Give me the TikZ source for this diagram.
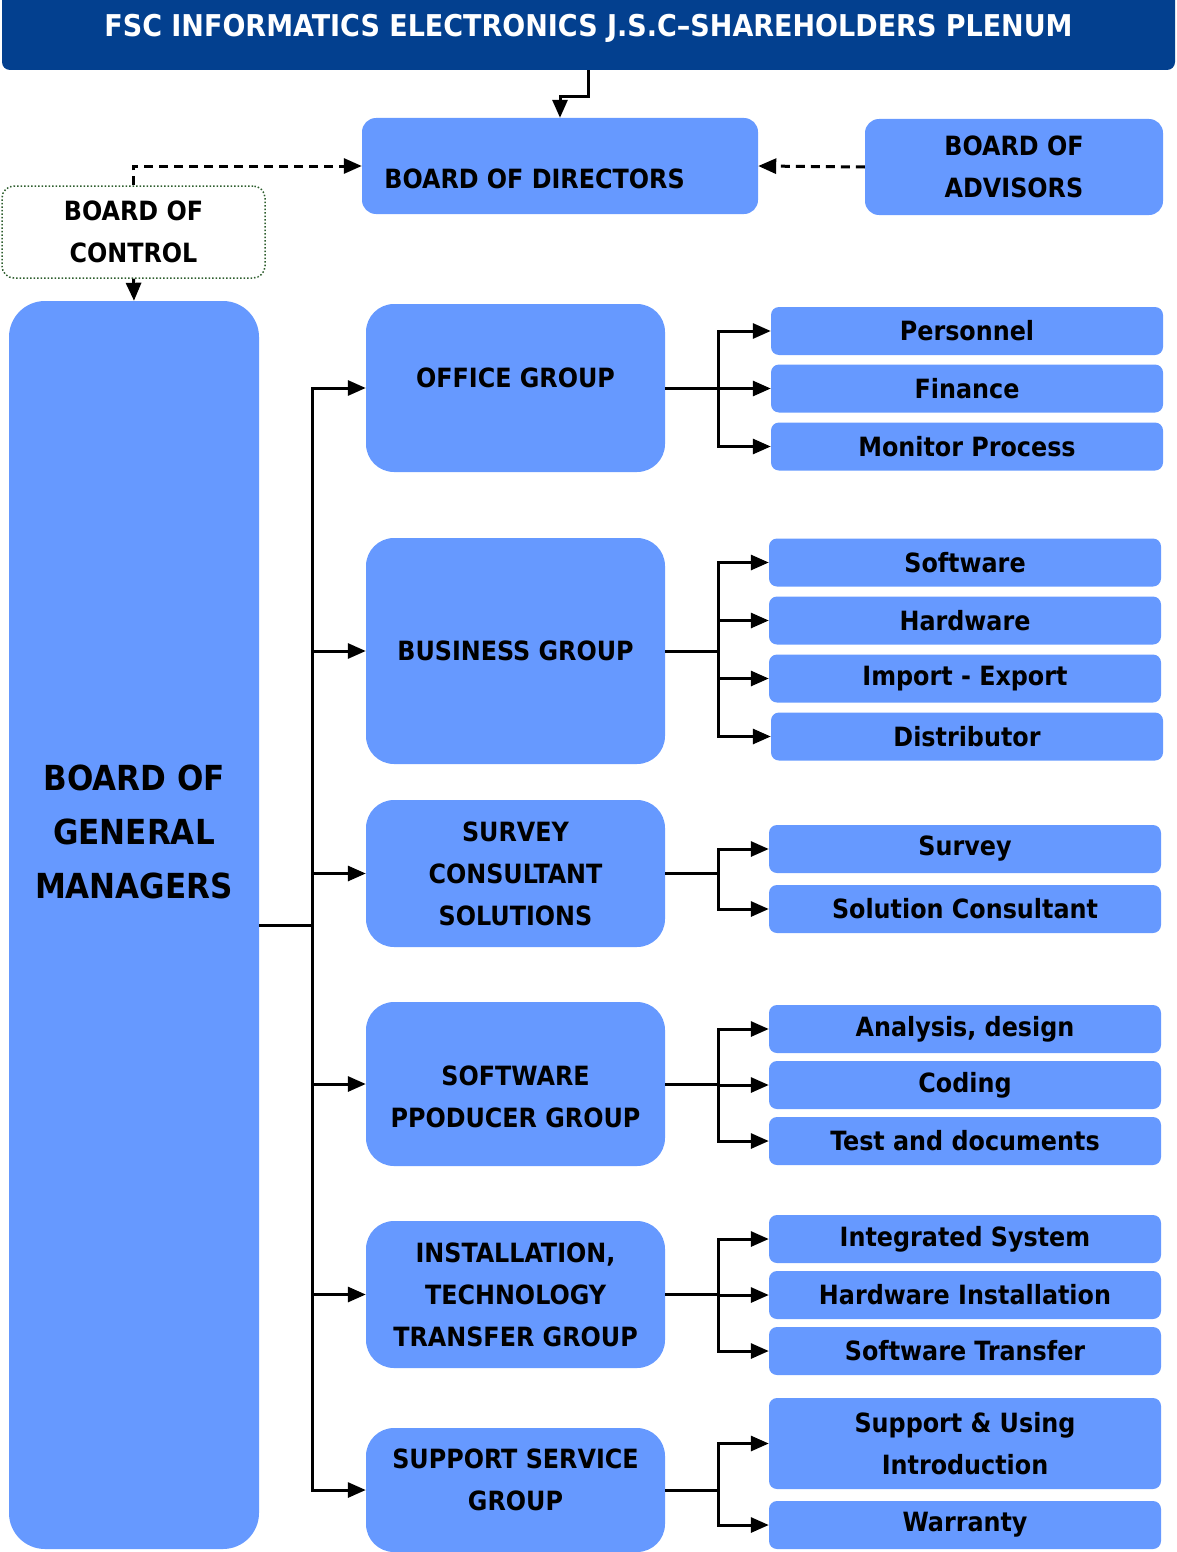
\documentclass[tikz,border=0pt]{standalone}
\usepackage{fontspec}
\setmainfont{DejaVu Sans Condensed}
\usetikzlibrary{arrows.meta,positioning}
\definecolor{plenumblue}{HTML}{03408F}
\definecolor{boxblue}{HTML}{6699FF}
\definecolor{ctrlgreen}{HTML}{2E5E2E}
\tikzset{
box/.style={fill=boxblue,rounded corners=#1,inner sep=0pt,align=center,
  font=\bfseries\fontsize{26.5}{42}\selectfont},
box/.default=14pt,
boxfont/.style={align=center,font=\bfseries\fontsize{26.5}{42}\selectfont},
groupbox/.style={box=28pt,minimum width=299pt},
subbox/.style={box=8pt,minimum width=392pt,minimum height=48pt},
arr/.style={-{Triangle[length=18pt,width=15pt]},line width=3pt},
dasharr/.style={arr,dash pattern=on 9pt off 6pt},
}

\begin{document}
\begin{tikzpicture}[x=1pt,y=-1pt]
        \useasboundingbox (0,0) rectangle (1176,1552);

        % top rows
        \node[box=8pt,fill=plenumblue,text=white,minimum width=1173pt,minimum height=84pt,
            font=\bfseries\fontsize{30}{34}\selectfont] (plenum) at (588.5,28)
            {FSC INFORMATICS ELECTRONICS J.S.C--SHAREHOLDERS PLENUM};
        \node[box,minimum width=396pt,minimum height=96pt,
            label={[xshift=-25.5pt,yshift=-13pt,boxfont]center:BOARD OF DIRECTORS}]
            (directors) at (560,166) {};
        \node[box,minimum width=298pt,minimum height=96pt] (advisors) at (1014,167) {BOARD OF\\ADVISORS};
        \node[box=12pt,fill=white,draw=ctrlgreen,line width=1.5pt,dotted,
            minimum width=263pt,minimum height=92pt] (control) at (133.5,232) {BOARD OF\\CONTROL};
        \node[box=36pt,minimum width=250pt,minimum height=1248pt,
            label={[yshift=93pt,align=center,font=\bfseries\fontsize{34.5}{54}\selectfont]center:BOARD OF\\GENERAL\\MANAGERS}]
            (managers) at (134,925) {};

        \draw[arr] (plenum.south) -- ++(0,26) -| (directors.north);
        \draw[dasharr] (advisors.west) -- (directors.east);
        \draw[dasharr] (control.north) |- (directors.west);
        \draw[arr] (control.south) -- (managers.north);

        % groups
        \node[groupbox,minimum height=168pt,
            label={[yshift=10pt,boxfont]center:OFFICE GROUP}]
            (office) at (515.5,388) {};
        \node[groupbox,minimum height=226pt] (business) at (515.5,651) {BUSINESS GROUP};
        \node[groupbox,minimum height=147pt] (survey) at (515.5,873.5) {SURVEY\\CONSULTANT\\SOLUTIONS};
        \node[groupbox,minimum height=164pt,
            label={[yshift=-13pt,boxfont]center:SOFTWARE\\PPODUCER GROUP}]
            (software) at (515.5,1084) {};
        \node[groupbox,minimum height=147pt] (install) at (515.5,1294.5) {INSTALLATION,\\TECHNOLOGY\\TRANSFER GROUP};
        \node[groupbox,minimum height=124pt,
            label={[yshift=10pt,boxfont]center:SUPPORT SERVICE\\GROUP}]
            (support) at (515.5,1490) {};

        \foreach \g in {office,business,survey,software,install,support}
            \draw[arr] (managers.east) -- ++(53,0) |- (\g.west);

        % departments
        \node[subbox] (personnel) at (967,331) {Personnel};
        \node[subbox] (finance) at (967,388.5) {Finance};
        \node[subbox] (monitor) at (967,446.5) {Monitor Process};

        \node[subbox] (swdept) at (965,562.5) {Software};
        \node[subbox] (hwdept) at (965,620.5) {Hardware};
        \node[subbox] (importexport) at (965,678.5) {Import - Export};
        \node[subbox] (distributor) at (967,736.5) {Distributor};

        \node[subbox] (surveydept) at (965,849) {Survey};
        \node[subbox] (consultant) at (965,909) {Solution Consultant};

        \node[subbox] (analysis) at (965,1029) {Analysis, design};
        \node[subbox] (coding) at (965,1085) {Coding};
        \node[subbox] (testdoc) at (965,1141) {Test and documents};

        \node[subbox] (integrated) at (965,1239) {Integrated System};
        \node[subbox] (hwinstall) at (965,1295) {Hardware Installation};
        \node[subbox] (swtransfer) at (965,1351) {Software Transfer};

        \node[subbox,minimum height=91pt] (using) at (965,1443.5) {Support \& Using\\Introduction};
        \node[subbox] (warranty) at (965,1525) {Warranty};

        \foreach \g/\d in {office/personnel,office/finance,office/monitor,
            business/swdept,business/hwdept,business/importexport,business/distributor,
            survey/surveydept,survey/consultant,
            software/analysis,software/coding,software/testdoc,
            install/integrated,install/hwinstall,install/swtransfer,
            support/using,support/warranty}
            \draw[arr] (\g.east) -- ++(53,0) |- (\d.west);
    \end{tikzpicture}
\end{document}
